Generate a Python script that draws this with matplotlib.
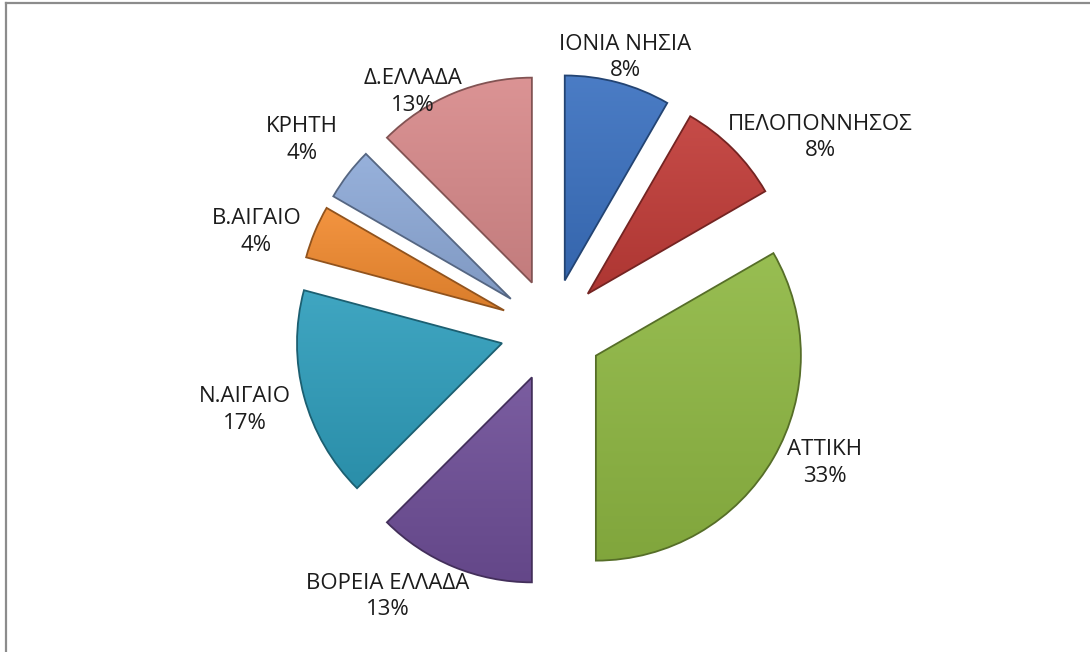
import numpy as np
import matplotlib.pyplot as plt
from matplotlib.colors import to_rgb
from matplotlib.lines import Line2D

# regions and number of entries per region
regions = ["ΙΟΝΙΑ ΝΗΣΙΑ", "ΠΕΛΟΠΟΝΝΗΣΟΣ", "ΑΤΤΙΚΗ", "ΒΟΡΕΙΑ ΕΛΛΑΔΑ",
           "Ν.ΑΙΓΑΙΟ", "Β.ΑΙΓΑΙΟ", "ΚΡΗΤΗ", "Δ.ΕΛΛΑΔΑ"]
counts = [2, 2, 8, 3, 4, 1, 1, 3]

colors = ["#3b71c0", "#c13c38", "#8fb843", "#6f4f98",
          "#2f9ebc", "#f28b30", "#8eaad8", "#d88a8b"]

# label centres in data units (pie radius = 1)
label_xy = [(0.36, 1.33), (1.31, 0.94), (1.334, -0.65), (-0.80, -1.30),
            (-1.495, -0.39), (-1.44, 0.478), (-1.217, 0.927), (-0.676, 1.161)]

total = sum(counts)
# excel style rounding (12.5 -> 13)
pct_labels = [f"{int(100 * c / total + 0.5)}%" for c in counts]

fig = plt.figure(figsize=(10.9, 6.52), dpi=100)
ax = fig.add_axes([0, 0, 1, 1])

wedges, _ = ax.pie(counts, colors=colors, startangle=90, counterclock=False,
                   explode=[0.25] * len(counts), radius=1.0,
                   wedgeprops=dict(linewidth=0))

# fake bevel: soft vertical gradient clipped to each wedge + darker rim
for w, c in zip(wedges, colors):
    base = np.array(to_rgb(c))
    top = base + (1 - base) * 0.08
    bottom = base * 0.9
    t = np.linspace(0, 1, 100)[:, None, None]
    img = top * (1 - t) + bottom * t
    bb = w.get_path().get_extents()
    im = ax.imshow(img, extent=(bb.x0, bb.x1, bb.y0, bb.y1), origin="upper",
                   aspect="auto", interpolation="bilinear", zorder=2)
    im.set_clip_path(w)
    w.set_facecolor("none")
    w.set_edgecolor(base * 0.6)
    w.set_linewidth(1.3)
    w.set_zorder(3)

for (x, y), name, pct in zip(label_xy, regions, pct_labels):
    ax.text(x, y, f"{name}\n{pct}", ha="center", va="center", fontsize=16,
            family="Open Sans", color="#1c1c1c", linespacing=1.35, zorder=4)

# pixel geometry: centre at (551.5, 330), radius 205 px
scale = 205.0
ax.set_xlim(-551.5 / scale, (1090 - 551.5) / scale)
ax.set_ylim((330 - 652) / scale, 330 / scale)
ax.set_aspect("auto")
ax.axis("off")

# chart area frame (only top and left edges visible)
fig.add_artist(Line2D([6 / 1090, 6 / 1090], [0, 1 - 3 / 652],
                      color="#8c8c8c", lw=1.6, transform=fig.transFigure))
fig.add_artist(Line2D([6 / 1090, 1], [1 - 3 / 652, 1 - 3 / 652],
                      color="#8c8c8c", lw=1.6, transform=fig.transFigure))

fig.savefig("out.png", dpi=100)
